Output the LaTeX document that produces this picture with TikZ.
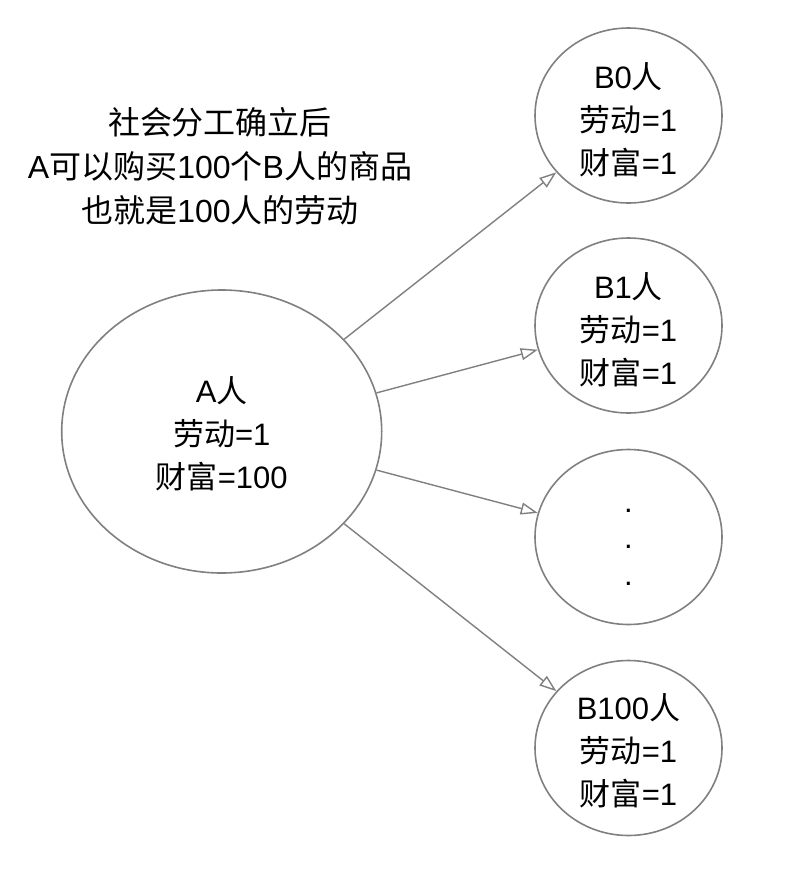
\documentclass[tikz,border=0pt]{standalone}
\usepackage{fontspec}
\setmainfont{Liberation Sans}
\newfontfamily\cjk{Noto Sans CJK SC}
\newcommand{\zh}[1]{{\cjk #1}}
\usetikzlibrary{shapes.geometric,arrows.meta}
\definecolor{lineg}{RGB}{128,128,128}
\tikzset{
  bubble/.style={ellipse, draw=lineg, line width=1.6pt, inner sep=0pt},
  bsmall/.style={bubble, minimum width=187pt, minimum height=175pt},
  txt/.style={align=center, font=\fontsize{31}{43}\selectfont, inner sep=0pt},
  title/.style={align=center, font=\fontsize{32}{44}\selectfont, inner sep=0pt},
  conn/.style={draw=lineg, line width=1.4pt, -{Triangle[open, length=17pt, width=12pt]}}
}
\begin{document}
\begin{tikzpicture}[x=1pt, y=-1pt]
\useasboundingbox[fill=white] (0,0) rectangle (800,884);
\node[bubble, minimum width=320pt, minimum height=283pt] (A) at (221.7,431.5) {};
\node[txt] (At) at (221.7,434) {A\zh{人}\\\zh{劳动}=1\\\zh{财富}=100};
\node[bsmall] (B0) at (628.5,115.5) {};
\node[txt] (B0t) at (628.5,120) {B0\zh{人}\\\zh{劳动}=1\\\zh{财富}=1};
\node[bsmall] (B1) at (628.5,325.5) {};
\node[txt] (B1t) at (628.5,330) {B1\zh{人}\\\zh{劳动}=1\\\zh{财富}=1};
\node[bsmall] (Bd) at (628.5,537) {};
\node[align=center, font=\fontsize{31}{36.5}\selectfont, inner sep=0pt] (Bdt) at (628.5,547) {.\\.\\.};
\node[bsmall] (B100) at (628.5,748) {};
\node[txt] (B100t) at (628.5,751) {B100\zh{人}\\\zh{劳动}=1\\\zh{财富}=1};
\node[title] (T) at (220,166) {\zh{社会分工确立后}\\A\zh{可以购买}100\zh{个}B\zh{人的商品}\\\zh{也就是}100\zh{人的劳动}};
\draw[conn] (A.37.8) -- (B0);
\draw[conn] (A.14.4) -- (B1);
\draw[conn] (A.-14.4) -- (Bd);
\draw[conn] (A.-37.8) -- (B100);
\end{tikzpicture}
\end{document}
